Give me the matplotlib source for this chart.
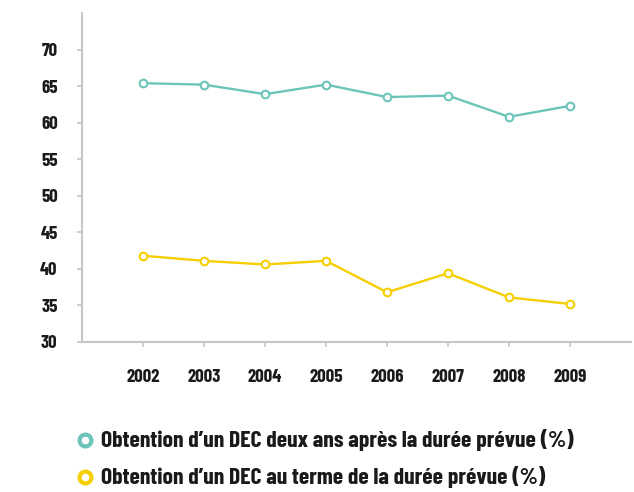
import matplotlib
matplotlib.use("Agg")
import matplotlib.pyplot as plt

years = [2002, 2003, 2004, 2005, 2006, 2007, 2008, 2009]
deux_ans = [65.4, 65.2, 63.9, 65.2, 63.5, 63.7, 60.8, 62.3]
au_terme = [41.8, 41.1, 40.6, 41.1, 36.8, 39.4, 36.1, 35.2]
yticks = [30, 35, 40, 45, 50, 55, 60, 65, 70]
labels = ["Obtention d\u2019un DEC deux ans après la durée prévue (%)",
          "Obtention d\u2019un DEC au terme de la durée prévue (%)"]

teal = "#6cc5b8"
yellow = "#f5cf00"
spine_col = "#c3c7c7"
txt_col = "#1a1a1a"
fp = dict(family=["Barlow Condensed", "DejaVu Sans"], weight="bold")

fig = plt.figure(figsize=(6.34, 4.92), dpi=100)
ax = fig.add_axes([0.1293, 0.3049, 0.866, 0.6687])

mk = dict(marker="o", markersize=5.5, markerfacecolor="white", markeredgewidth=1.5, linewidth=1.7)
ax.plot(years, deux_ans, color=teal, markeredgecolor=teal, **mk)
ax.plot(years, au_terme, color=yellow, markeredgecolor=yellow, **mk)

ax.set_xlim(2001, 2010)
ax.set_ylim(30, 75)
ax.set_xticks(years)
ax.set_yticks(yticks)
ax.set_xticklabels([str(y) for y in years], fontsize=13.5, color=txt_col, **fp)
ax.set_yticklabels([str(v) for v in yticks], fontsize=13.5, color=txt_col, **fp)
for s in ["top", "right"]:
    ax.spines[s].set_visible(False)
for s in ["left", "bottom"]:
    ax.spines[s].set_color(spine_col)
    ax.spines[s].set_linewidth(1.5)
ax.tick_params(axis="y", length=3.5, width=1.2, color=spine_col, pad=14)
ax.tick_params(axis="x", length=3.5, width=1.2, color=spine_col, pad=16)

for i, (lab, col) in enumerate(zip(labels, [teal, yellow])):
    y = 0.1057 - i * 0.0752
    fig.lines.append(plt.Line2D([0.134], [y], transform=fig.transFigure, marker="o",
                                markersize=8.5, markerfacecolor="white", markeredgecolor=col,
                                markeredgewidth=3, linestyle="none"))
    fig.text(0.159, y, lab, ha="left", va="center", fontsize=17, color=txt_col, **fp)

fig.savefig("out.png", dpi=100)
